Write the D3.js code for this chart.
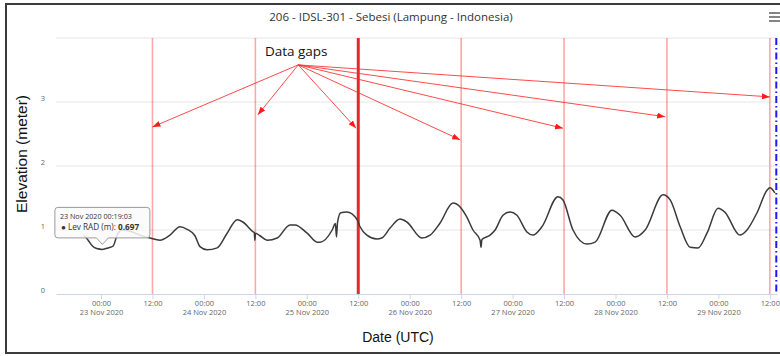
<!DOCTYPE html>
<html>
<head>
<meta charset="utf-8">
<script src="https://cdn.jsdelivr.net/npm/d3@7"></script>
<style>
    body { margin: 0; background: #fff; }
    svg { display: block; }
</style>
</head>
<body>
<div id="chart"></div>
<script>
// chart data
var chartTitle = "206 - IDSL-301 - Sebesi (Lampung - Indonesia)"
var seriesName = "Lev RAD (m)"

var levTimes = [
    "2020-11-22T20:00", "2020-11-22T21:00", "2020-11-22T22:00", "2020-11-22T23:00",
    "2020-11-23T00:19", "2020-11-23T01:40", "2020-11-23T02:50", "2020-11-23T03:45",
    "2020-11-23T04:55", "2020-11-23T06:45", "2020-11-23T09:05", "2020-11-23T11:25",
    "2020-11-23T13:45", "2020-11-23T16:05", "2020-11-23T18:25", "2020-11-23T20:05",
    "2020-11-23T21:55", "2020-11-23T23:05", "2020-11-24T00:45", "2020-11-24T03:05",
    "2020-11-24T05:25", "2020-11-24T07:45", "2020-11-24T09:05", "2020-11-24T11:30",
    "2020-11-24T11:45", "2020-11-24T11:53", "2020-11-24T12:02", "2020-11-24T13:05",
    "2020-11-24T14:45", "2020-11-24T17:05", "2020-11-24T20:05", "2020-11-24T21:15",
    "2020-11-25T00:05", "2020-11-25T02:25", "2020-11-25T03:05", "2020-11-25T05:55",
    "2020-11-25T06:40", "2020-11-25T06:55", "2020-11-25T07:10", "2020-11-25T07:55",
    "2020-11-25T09:20", "2020-11-25T11:45", "2020-11-25T12:25", "2020-11-25T14:00",
    "2020-11-25T16:20", "2020-11-25T17:30", "2020-11-25T19:25", "2020-11-25T21:45",
    "2020-11-25T23:20", "2020-11-26T02:50", "2020-11-26T04:45", "2020-11-26T07:05",
    "2020-11-26T10:05", "2020-11-26T11:45", "2020-11-26T13:20", "2020-11-26T14:45",
    "2020-11-26T16:25", "2020-11-26T16:38", "2020-11-26T16:50", "2020-11-26T18:45",
    "2020-11-26T19:55", "2020-11-26T21:45", "2020-11-26T23:25", "2020-11-27T01:00",
    "2020-11-27T03:20", "2020-11-27T04:45", "2020-11-27T06:50", "2020-11-27T10:35",
    "2020-11-27T11:45", "2020-11-27T14:05", "2020-11-27T17:20", "2020-11-27T19:15",
    "2020-11-27T23:10", "2020-11-28T01:05", "2020-11-28T04:35", "2020-11-28T06:55",
    "2020-11-28T11:05", "2020-11-28T12:45", "2020-11-28T15:05", "2020-11-28T17:25",
    "2020-11-28T19:15", "2020-11-28T21:20", "2020-11-28T23:55", "2020-11-29T01:30",
    "2020-11-29T05:00", "2020-11-29T06:40", "2020-11-29T09:00", "2020-11-29T11:20",
    "2020-11-29T12:00", "2020-11-29T13:10"
]
var levValues = [
    0.92, 0.84, 0.75, 0.71,
    0.697, 0.72, 0.75, 0.92,
    1.00, 0.98, 0.92, 0.875,
    0.84, 0.92, 1.05, 1.01,
    0.91, 0.74, 0.69, 0.72,
    0.95, 1.16, 1.125, 0.97,
    0.96, 0.84, 0.95, 0.91,
    0.84, 0.875, 1.08, 1.08,
    0.95, 0.81, 0.81, 1.00,
    1.10, 0.89, 1.12, 1.27,
    1.28, 1.16, 1.05, 0.92,
    0.86, 0.875, 1.03, 1.17,
    1.125, 0.875, 0.92, 1.11,
    1.42, 1.36, 1.20, 1.00,
    0.84, 0.73, 0.85, 0.92,
    1.00, 1.23, 1.28, 1.23,
    0.97, 0.92, 1.05, 1.52,
    1.47, 1.00, 0.78, 0.81,
    1.31, 1.23, 0.89, 1.00,
    1.55, 1.47, 1.05, 0.73,
    0.72, 0.95, 1.34, 1.28,
    0.92, 1.00, 1.27, 1.62,
    1.66, 1.58
]

// data gaps (red lines), the widest one, and the blue marker line
var gapTimes = [
    "2020-11-23T12:00", "2020-11-24T12:00", "2020-11-25T12:00", "2020-11-26T12:00",
    "2020-11-27T12:00", "2020-11-28T12:00", "2020-11-29T12:00"
]
var mainGapTime = "2020-11-25T12:00"
var markerTime = "2020-11-29T13:30"

var yTicks = [0, 1, 2, 3]

// "Data gaps" annotation: arrow start and arrow tips
var gapLabel = "Data gaps"
var arrowStart = { time: "2020-11-24T22:00", value: 3.58 }
var arrowTimes = [
    "2020-11-23T12:00", "2020-11-24T12:35", "2020-11-25T11:30", "2020-11-26T11:45",
    "2020-11-27T11:45", "2020-11-28T11:35", "2020-11-29T12:00"
]
var arrowValues = [2.61, 2.80, 2.59, 2.41, 2.59, 2.77, 3.08]

// hovered point
var tipTime = "2020-11-23T00:19:03"
var tipValue = 0.697

let drawChart = () => {
    var width = 780
    var height = 356
    var parse = d3.utcParse("%Y-%m-%dT%H:%M")
    var parseSec = d3.utcParse("%Y-%m-%dT%H:%M:%S")

    var svg = d3.select("#chart")
        .append("svg")
        .attr("width", width)
        .attr("height", height)
        .style("font-family", "'Open Sans', sans-serif")

    var x = d3.scaleUtc()
        .domain([parse("2020-11-22T13:30"), parse("2020-11-29T13:40")])
        .range([56, 777])
    var y = d3.scaleLinear()
        .domain([0, 4])
        .range([294, 38])

    // outer frame
    svg.append("rect")
        .attr("x", 6).attr("y", 4)
        .attr("width", 780).attr("height", 349)
        .attr("fill", "none")
        .attr("stroke", "#3c3c3c")
        .attr("stroke-width", 2)

    // title
    svg.append("text")
        .attr("x", 391).attr("y", 21)
        .attr("text-anchor", "middle")
        .style("font-size", "11.5px")
        .style("fill", "#333")
        .text(chartTitle)

    // menu button
    svg.append("g").selectAll("line")
        .data([13, 17, 21])
        .enter()
        .append("line")
        .attr("x1", 769).attr("x2", 780)
        .attr("y1", (d) => d).attr("y2", (d) => d)
        .attr("stroke", "#666")
        .attr("stroke-width", 1.6)

    // gridlines
    svg.append("g").selectAll("line")
        .data([1, 2, 3, 4])
        .enter()
        .append("line")
        .attr("x1", x.range()[0]).attr("x2", x.range()[1])
        .attr("y1", (d) => y(d)).attr("y2", (d) => y(d))
        .attr("stroke", "#e6e6e6")

    // y labels
    svg.append("g").selectAll("text")
        .data(yTicks)
        .enter()
        .append("text")
        .attr("x", 43)
        .attr("y", (d) => y(d) - 1)
        .attr("text-anchor", "middle")
        .style("font-size", "7.5px")
        .style("fill", "#666")
        .text((d) => d)

    // x axis
    var tickTimes = d3.utcHour.every(12).range(parse("2020-11-23T00:00"), parse("2020-11-29T12:01"))
    var fmtHour = d3.utcFormat("%H:%M")
    var fmtDay = d3.utcFormat("%-d %b %Y")
    var xAxis = svg.append("g")
        .attr("transform", "translate(0," + y(0) + ")")
        .call(d3.axisBottom(x).tickValues(tickTimes).tickSize(5).tickSizeOuter(0))
    xAxis.select(".domain").attr("stroke", "#ccd6eb")
    xAxis.selectAll(".tick line").attr("stroke", "#ccd6eb")
    xAxis.selectAll(".tick text")
        .style("font-family", "'Open Sans', sans-serif")
        .style("font-size", "7.5px")
        .attr("fill", "#666")
        .attr("y", 0)
        .attr("dy", null)
        .each(function (d) {
            var t = d3.select(this)
            t.text(null)
            t.append("tspan").attr("x", 0).attr("y", 12).text(fmtHour(d))
            if (d.getUTCHours() === 0) {
                t.append("tspan").attr("x", 0).attr("y", 21).text(fmtDay(d))
            }
        })

    // data gap lines
    svg.append("g").selectAll("line")
        .data(gapTimes)
        .enter()
        .append("line")
        .attr("x1", (d) => x(parse(d))).attr("x2", (d) => x(parse(d)))
        .attr("y1", y(4)).attr("y2", y(0))
        .attr("stroke", (d) => d === mainGapTime ? "#e8262b" : "#ff0000")
        .attr("stroke-opacity", (d) => d === mainGapTime ? 1 : 0.35)
        .attr("stroke-width", (d) => d === mainGapTime ? 3 : 1.6)

    // blue marker line
    svg.append("line")
        .attr("x1", x(parse(markerTime))).attr("x2", x(parse(markerTime)))
        .attr("y1", y(4)).attr("y2", y(0))
        .attr("stroke", "#1a1aff")
        .attr("stroke-width", 2)
        .attr("stroke-dasharray", "7,3,1.5,3")

    // series line
    var points = levTimes.map((t, i) => ({ date: parse(t), value: levValues[i] }))
    var line = d3.line()
        .x((d) => x(d.date))
        .y((d) => y(d.value))
        .curve(d3.curveMonotoneX)
    svg.append("path")
        .datum(points)
        .attr("d", line)
        .attr("fill", "none")
        .attr("stroke", "#3a3a3a")
        .attr("stroke-width", 1.5)
        .attr("stroke-linejoin", "round")

    // annotation arrows
    svg.append("defs").append("marker")
        .attr("id", "head")
        .attr("markerUnits", "userSpaceOnUse")
        .attr("markerWidth", 8).attr("markerHeight", 6)
        .attr("refX", 8).attr("refY", 3)
        .attr("orient", "auto")
        .append("path")
        .attr("d", "M0,0L8,3L0,6Z")
        .attr("fill", "#ff1a1a")

    var ax = x(parse(arrowStart.time))
    var ay = y(arrowStart.value)
    svg.append("g").selectAll("line")
        .data(arrowTimes)
        .enter()
        .append("line")
        .attr("x1", ax).attr("y1", ay)
        .attr("x2", (d) => x(parse(d)))
        .attr("y2", (d, i) => y(arrowValues[i]))
        .attr("stroke", "#ff2a2a")
        .attr("stroke-opacity", 0.85)
        .attr("stroke-width", 1)
        .attr("marker-end", "url(#head)")

    svg.append("text")
        .attr("x", ax - 2).attr("y", ay - 9)
        .attr("text-anchor", "middle")
        .style("font-size", "13.5px")
        .style("fill", "#111")
        .text(gapLabel)

    // axis titles
    svg.append("text")
        .attr("transform", "translate(27,154) rotate(-90)")
        .attr("text-anchor", "middle")
        .style("font-family", "'Liberation Sans', Arial, sans-serif")
        .style("font-size", "15.5px")
        .style("fill", "#111")
        .text("Elevation (meter)")

    svg.append("text")
        .attr("x", 398).attr("y", 342)
        .attr("text-anchor", "middle")
        .style("font-family", "'Liberation Sans', Arial, sans-serif")
        .style("font-size", "14px")
        .style("fill", "#111")
        .text("Date (UTC)")

    // tooltip
    var px = x(parseSec(tipTime))
    var py = y(tipValue)
    var bl = px - 47.5, br = px + 47.5, bt = py - 42, bb = py - 11.5, r = 3
    var tip = svg.append("g")
    tip.append("path")
        .attr("d", "M" + (bl + r) + "," + bt + "H" + (br - r) + "Q" + br + "," + bt + " " + br + "," + (bt + r) +
            "V" + (bb - r) + "Q" + br + "," + bb + " " + (br - r) + "," + bb +
            "H" + (px + 6) + "L" + px + "," + (py - 5) + "L" + (px - 6) + "," + bb +
            "H" + (bl + r) + "Q" + bl + "," + bb + " " + bl + "," + (bb - r) +
            "V" + (bt + r) + "Q" + bl + "," + bt + " " + (bl + r) + "," + bt + "Z")
        .attr("fill", "#fafafa")
        .attr("fill-opacity", 0.85)
        .attr("stroke", "#9a9a9a")
        .attr("stroke-width", 1)
    tip.append("text")
        .attr("x", bl + 5).attr("y", bt + 12)
        .style("font-size", "7.2px")
        .style("fill", "#333")
        .text(d3.utcFormat("%-d %b %Y %H:%M:%S")(parseSec(tipTime)))
    var row = tip.append("text")
        .attr("x", bl + 6).attr("y", bt + 23)
        .style("font-size", "8.2px")
        .style("fill", "#333")
    row.append("tspan").style("fill", "#383838").text("\u25CF ")
    row.append("tspan").text(seriesName + ": ")
    row.append("tspan").style("font-weight", "bold").text(tipValue.toFixed(3))
}

drawChart()
</script>
</body>
</html>
